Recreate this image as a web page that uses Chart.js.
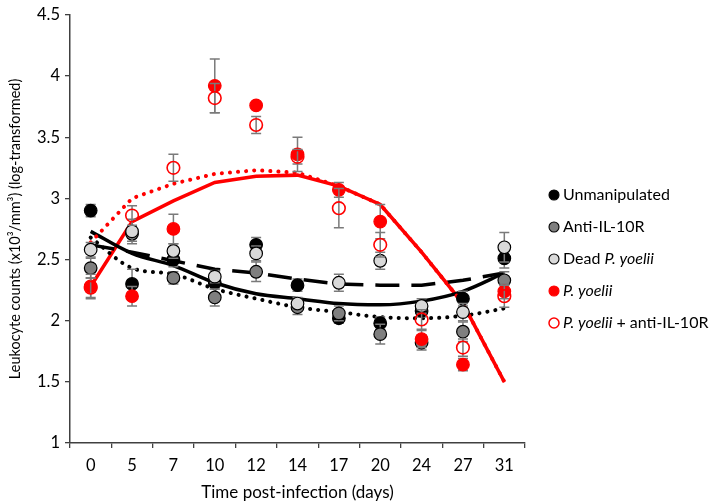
<!DOCTYPE html>
<html>
<head>
<meta charset="utf-8">
<script src="https://cdn.jsdelivr.net/npm/chart.js@4"></script>
<style>
    html, body { margin: 0; padding: 0; background: #fff; }
    #wrap { width: 709px; height: 504px; }
</style>
</head>
<body>
<div id="wrap"><canvas id="leukoChart" width="709" height="504"></canvas></div>
<script>
// Days post-infection (categories)
const days = ['0', '5', '7', '10', '12', '14', '17', '20', '24', '27', '31'];

// Group means (log-transformed counts)
const unmanipulated = [2.90, 2.30, 2.50, 2.31, 2.62, 2.29, 2.02, 1.98, 2.08, 2.18, 2.51];
const antiIL10R     = [2.43, 2.71, 2.35, 2.19, 2.40, 2.11, 2.06, 1.89, 1.82, 1.91, 2.33];
const deadPy        = [2.58, 2.73, 2.57, 2.36, 2.55, 2.14, 2.31, 2.49, 2.12, 2.07, 2.60];
const pYoelii       = [2.28, 2.20, 2.75, 3.92, 3.76, 3.36, 3.07, 2.81, 1.85, 1.64, 2.24];
const pYoeliiAnti   = [2.27, 2.86, 3.25, 3.82, 3.60, 3.34, 2.92, 2.62, 2.01, 1.78, 2.20];

// Error bars (+/-)
const errUnmanipulated = [0.05, 0.12, 0.06, 0.05, 0.06, 0.05, 0.04, 0.05, 0.05, 0.06, 0.08];
const errAntiIL10R     = [0.08, 0.06, 0.05, 0.07, 0.08, 0.06, 0.06, 0.08, 0.06, 0.08, 0.07];
const errDeadPy        = [0.06, 0.10, 0.06, 0.05, 0.06, 0.05, 0.07, 0.07, 0.06, 0.07, 0.12];
const errPYoelii       = [0.10, 0.08, 0.12, 0.22, 0.03, 0.14, 0.06, 0.14, 0.07, 0.05, 0.06];
const errPYoeliiAnti   = [0.08, 0.08, 0.11, 0.12, 0.07, 0.06, 0.16, 0.10, 0.08, 0.07, 0.09];

// Trend lines
const trendUnmanipulated = [2.73, 2.55, 2.45, 2.31, 2.22, 2.18, 2.14, 2.13, 2.16, 2.24, 2.39];
const trendDeadPy        = [2.62, 2.56, 2.49, 2.42, 2.39, 2.34, 2.30, 2.29, 2.29, 2.33, 2.39];
const trendAntiIL10R     = [2.68, 2.43, 2.38, 2.26, 2.18, 2.11, 2.07, 2.03, 2.02, 2.04, 2.10];
const trendPYoelii       = [2.28, 2.81, 2.98, 3.13, 3.18, 3.19, 3.10, 2.95, 2.56, 2.14, 1.50];
const trendPYoeliiAnti   = [2.64, 3.00, 3.12, 3.20, 3.23, 3.21, 3.10, 2.95, 2.56, 2.14, 1.50];

// Y axis ticks
const yMin = 1, yMax = 4.5, yStep = 0.5;

const FONT = 'Lato, "Open Sans", sans-serif';

// Point series (legend order, later ones on top)
const pointSeries = [
    { label: 'Unmanipulated', data: unmanipulated, err: errUnmanipulated, fill: '#000000', stroke: '#000000', parts: [['Unmanipulated', false]] },
    { label: 'Anti-IL-10R', data: antiIL10R, err: errAntiIL10R, fill: '#7f7f7f', stroke: '#000000', parts: [['Anti-IL-10R', false]] },
    { label: 'Dead P. yoelii', data: deadPy, err: errDeadPy, fill: '#d9d9d9', stroke: '#000000', parts: [['Dead ', false], ['P. yoelii', true]] },
    { label: 'P. yoelii', data: pYoelii, err: errPYoelii, fill: '#ff0000', stroke: '#ff0000', parts: [['P. yoelii', true]] },
    { label: 'P. yoelii + anti-IL-10R', data: pYoeliiAnti, err: errPYoeliiAnti, fill: 'rgba(0,0,0,0)', stroke: '#ff0000', parts: [['P. yoelii', true], [' + anti-IL-10R', false]] }
];

function lineSet(data, color, dash, width, tension) {
    return {
        type: 'line',
        data: data,
        borderColor: color,
        borderWidth: width,
        borderDash: dash,
        borderCapStyle: dash.length && dash[0] < 1 ? 'round' : 'butt',
        pointRadius: 0,
        tension: tension,
        cubicInterpolationMode: tension ? 'monotone' : 'default',
        fill: false,
        order: 100
    };
}

const datasets = [
    lineSet(trendPYoeliiAnti, '#ff0000', [0.1, 8], 4, 0),
    lineSet(trendAntiIL10R, '#000000', [0.1, 8], 4, 0.3),
    lineSet(trendDeadPy, '#000000', [24, 12], 3.5, 0),
    lineSet(trendUnmanipulated, '#000000', [], 3.5, 0.3),
    lineSet(trendPYoelii, '#ff0000', [], 3.5, 0)
];
pointSeries.forEach((s, i) => {
    datasets.push({
        type: 'line',
        label: s.label,
        data: s.data,
        errors: s.err,
        showLine: false,
        pointRadius: 6.3,
        pointHoverRadius: 6.3,
        pointBackgroundColor: s.fill,
        pointBorderColor: s.stroke,
        pointBorderWidth: i === 4 ? 1.6 : 1.2,
        order: 50 - i
    });
});

// Error bars drawn just before each point series
const errorBarPlugin = {
    id: 'errorBars',
    beforeDatasetDraw(chart, args) {
        const ds = chart.data.datasets[args.index];
        if (!ds.errors) return;
        const yScale = chart.scales.y;
        const ctx = chart.ctx;
        ctx.save();
        ctx.strokeStyle = '#7a7a7a';
        ctx.lineWidth = 1.5;
        args.meta.data.forEach((pt, j) => {
            const v = ds.data[j], e = ds.errors[j];
            const top = yScale.getPixelForValue(v + e);
            const bot = yScale.getPixelForValue(v - e);
            ctx.beginPath();
            ctx.moveTo(pt.x, top); ctx.lineTo(pt.x, bot);
            ctx.moveTo(pt.x - 5, top); ctx.lineTo(pt.x + 5, top);
            ctx.moveTo(pt.x - 5, bot); ctx.lineTo(pt.x + 5, bot);
            ctx.stroke();
        });
        ctx.restore();
    }
};

// Legend with italic species names
const legendPlugin = {
    id: 'mixedLegend',
    afterDraw(chart) {
        const ctx = chart.ctx;
        ctx.save();
        ctx.textBaseline = 'middle';
        pointSeries.forEach((s, i) => {
            const y = 195 + i * 32;
            ctx.beginPath();
            ctx.arc(554, y, 5, 0, Math.PI * 2);
            ctx.fillStyle = s.fill;
            ctx.fill();
            ctx.lineWidth = i === 4 ? 1.5 : 1.1;
            ctx.strokeStyle = s.stroke;
            ctx.stroke();
            let x = 563;
            ctx.fillStyle = '#000';
            s.parts.forEach(([txt, italic]) => {
                ctx.font = (italic ? 'italic ' : '') + '16px ' + FONT;
                ctx.fillText(txt, x, y);
                x += ctx.measureText(txt).width;
            });
        });
        ctx.restore();
    }
};

new Chart(document.getElementById('leukoChart'), {
    type: 'line',
    data: { labels: days, datasets: datasets },
    options: {
        responsive: false,
        animation: false,
        events: [],
        layout: { padding: { top: 13, right: 184, left: 0, bottom: 0 } },
        plugins: {
            legend: { display: false },
            tooltip: { enabled: false }
        },
        scales: {
            x: {
                offset: true,
                grid: { offset: true, drawOnChartArea: false, tickLength: 5, color: '#404040', lineWidth: 1.3 },
                border: { color: '#404040', width: 1.5 },
                ticks: { color: '#000', font: { family: FONT, size: 16.5 }, padding: 8, maxRotation: 0 },
                title: { display: true, text: 'Time post-infection (days)', color: '#000', font: { family: FONT, size: 17 }, padding: { top: 0, bottom: 1 } },
                afterFit(scale) { scale.height = 61; }
            },
            y: {
                min: yMin,
                max: yMax,
                ticks: {
                    stepSize: yStep, color: '#000', font: { family: FONT, size: 16.5 }, padding: 5,
                    callback: v => parseFloat(Number(v).toFixed(2)).toString()
                },
                grid: { drawOnChartArea: false, tickLength: 5, color: '#404040', lineWidth: 1.3 },
                border: { color: '#404040', width: 1.5 },
                title: { display: true, text: 'Leukocyte counts (x10³/mm³) (log-transformed)', color: '#000', font: { family: FONT, size: 14.5 }, padding: { top: 7, bottom: 0 } },
                afterFit(scale) { scale.width = 70; }
            }
        }
    },
    plugins: [errorBarPlugin, legendPlugin]
});
</script>
</body>
</html>
